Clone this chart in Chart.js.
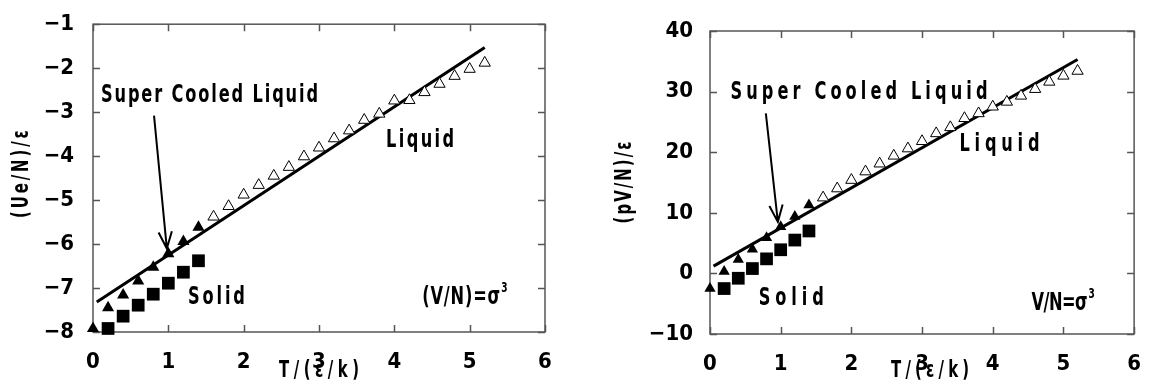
<!DOCTYPE html>
<html>
<head>
<meta charset="utf-8">
<script src="https://cdn.jsdelivr.net/npm/chart.js@4.4.0/dist/chart.umd.min.js"></script>
<style>
  html, body { margin:0; padding:0; background:#fff; }
  #wrap { display:flex; width:1150px; height:387px; }
  .box { position:relative; width:575px; height:387px; }
</style>
</head>
<body>
<div id="wrap">
  <div class="box"><canvas id="chart-energy"></canvas></div>
  <div class="box"><canvas id="chart-press"></canvas></div>
</div>
<script>
// ---- data ----
var T_SC    = [0, 0.2, 0.4, 0.6, 0.8, 1.0, 1.2, 1.4];          // super cooled liquid
var T_SOLID = [0.2, 0.4, 0.6, 0.8, 1.0, 1.2, 1.4];             // solid
var T_LIQ   = [1.6, 1.8, 2.0, 2.2, 2.4, 2.6, 2.8, 3.0, 3.2, 3.4, 3.6, 3.8, 4.0, 4.2, 4.4, 4.6, 4.8, 5.0, 5.2];
var T_FIT   = [0.05, 5.2];

var U_SC    = [-7.92, -7.45, -7.16, -6.84, -6.53, -6.22, -5.94, -5.62];
var U_SOLID = [-7.92, -7.64, -7.39, -7.14, -6.89, -6.64, -6.38];
var U_LIQ   = [-5.38, -5.14, -4.88, -4.66, -4.45, -4.25, -4.01, -3.81, -3.60, -3.42, -3.18, -3.04,
               -2.74, -2.73, -2.55, -2.36, -2.18, -2.02, -1.88];
var U_FIT   = [-7.32, -1.53];

var P_SC    = [-2.5, 0.3, 2.3, 4.0, 5.9, 7.7, 9.4, 11.3];
var P_SOLID = [-2.5, -0.8, 0.8, 2.4, 3.9, 5.5, 7.0];
var P_LIQ   = [12.5, 14.0, 15.4, 16.8, 18.1, 19.4, 20.6, 21.8, 23.1, 24.1, 25.6, 26.4,
               27.5, 28.3, 29.3, 30.4, 31.6, 32.6, 33.4];
var P_FIT   = [1.2, 35.3];

var X_TICKS = [0, 1, 2, 3, 4, 5, 6];
var U_TICKS = [-8, -7, -6, -5, -4, -3, -2, -1];
var P_TICKS = [-10, 0, 10, 20, 30, 40];

var FONT = '"DejaVu Sans Condensed", "DejaVu Sans", sans-serif';
var SQUEEZE = 0.72;   // the original uses a tall, narrow gothic face

function pts(xs, ys) { return xs.map(function(x, i){ return {x:x, y:ys[i]}; }); }
function minus(v) { return String(v).replace('-', '\u2212'); }

// squeezed text spread to a target width
function drawText(ctx, text, px, py, w, size, align) {
  ctx.save();
  ctx.font = 'bold ' + size + 'px ' + FONT;
  ctx.fillStyle = '#000';
  ctx.textBaseline = 'middle';
  ctx.textAlign = 'left';
  ctx.letterSpacing = '0px';
  var nat = ctx.measureText(text).width;
  var sp = w ? (w / SQUEEZE - nat) / Math.max(text.length - 1, 1) : 0;
  var real = w ? w : nat * SQUEEZE;
  var x0 = align === 'center' ? px - real / 2 : px;
  ctx.translate(x0, py);
  ctx.scale(SQUEEZE, 1);
  ctx.letterSpacing = sp + 'px';
  ctx.fillText(text, 0, 0);
  ctx.restore();
  return x0 + real;
}

function decorPlugin(cfg) {
  return {
    id: 'decor',
    beforeDatasetsDraw: function(chart) {
      var ctx = chart.ctx, a = chart.chartArea;
      var xs = chart.scales.x, ys = chart.scales.y;
      ctx.save();
      ctx.strokeStyle = '#555';
      ctx.lineWidth = 1.5;
      ctx.strokeRect(a.left, a.top, a.right - a.left, a.bottom - a.top);
      ctx.beginPath();
      X_TICKS.forEach(function(v){
        var p = Math.round(xs.getPixelForValue(v)) + 0.5;
        ctx.moveTo(p, a.bottom); ctx.lineTo(p, a.bottom - 7);
        ctx.moveTo(p, a.top);    ctx.lineTo(p, a.top + 7);
      });
      cfg.yTicks.forEach(function(v){
        var p = Math.round(ys.getPixelForValue(v)) + 0.5;
        ctx.moveTo(a.left, p);  ctx.lineTo(a.left + 7, p);
        ctx.moveTo(a.right, p); ctx.lineTo(a.right - 7, p);
      });
      ctx.stroke();
      ctx.restore();
    },
    afterDatasetsDraw: function(chart) {
      var ctx = chart.ctx, a = chart.chartArea;
      var xs = chart.scales.x, ys = chart.scales.y;
      // arrow
      var ar = cfg.arrow;
      var x1 = xs.getPixelForValue(ar.from[0]), y1 = ys.getPixelForValue(ar.from[1]);
      var x2 = xs.getPixelForValue(ar.to[0]),   y2 = ys.getPixelForValue(ar.to[1]);
      var ang = Math.atan2(y2 - y1, x2 - x1);
      ctx.save();
      ctx.strokeStyle = '#000';
      ctx.lineWidth = 2;
      ctx.beginPath();
      ctx.moveTo(x1, y1); ctx.lineTo(x2, y2);
      ctx.moveTo(x2 - 18 * Math.cos(ang - 0.38), y2 - 18 * Math.sin(ang - 0.38));
      ctx.lineTo(x2, y2);
      ctx.lineTo(x2 - 18 * Math.cos(ang + 0.38), y2 - 18 * Math.sin(ang + 0.38));
      ctx.stroke();
      ctx.restore();
      // labels
      cfg.labels.forEach(function(l){
        var px = xs.getPixelForValue(l.x), py = ys.getPixelForValue(l.y);
        var end = drawText(ctx, l.text, px, py, l.w, 25);
        if (l.sup) {
          ctx.save();
          ctx.font = 'bold 14px ' + FONT;
          ctx.textBaseline = 'middle';
          ctx.translate(end + 1, py - 9);
          ctx.scale(SQUEEZE, 1);
          ctx.fillText(l.sup, 0, 0);
          ctx.restore();
        }
      });
      // axis titles
      var cx = (a.left + a.right) / 2 + cfg.xTitleShift;
      drawText(ctx, 'T/(\u03b5/k)', cx, 371, cfg.xTitleW, 23, 'center');
      ctx.save();
      ctx.translate(cfg.yTitleX, (a.top + a.bottom) / 2 + cfg.yTitleShift);
      ctx.rotate(-Math.PI / 2);
      drawText(ctx, cfg.yTitle, 0, 0, cfg.yTitleW, 23, 'center');
      ctx.restore();
    }
  };
}

function tickFont() { return {family: FONT, size: 22, weight: 'bold'}; }

function makeChart(id, ser, cfg) {
  var ctx = document.getElementById(id);
  return new Chart(ctx, {
    type: 'scatter',
    data: {
      datasets: [
        { label:'fit', data: pts(T_FIT, ser.fit), showLine:true, borderColor:'#000', borderWidth:3,
          pointRadius:0, clip:false, order:4 },
        { label:'Liquid', data: pts(T_LIQ, ser.liq), pointStyle:'triangle', pointRadius:cfg.rOpen,
          backgroundColor:'#fff', borderColor:'#000', borderWidth:1, clip:false, order:3 },
        { label:'Super Cooled Liquid', data: pts(T_SC, ser.sc), pointStyle:'triangle', pointRadius:cfg.rTri,
          backgroundColor:'#000', borderColor:'#000', borderWidth:0, clip:false, order:2 },
        { label:'Solid', data: pts(T_SOLID, ser.solid), pointStyle:'rect', pointRadius:9,
          backgroundColor:'#000', borderColor:'#000', borderWidth:0, clip:false, order:1 }
      ]
    },
    options: {
      responsive:true, maintainAspectRatio:false, animation:false,
      layout: { padding: cfg.pad },
      plugins: { legend:{display:false}, tooltip:{enabled:false} },
      scales: {
        x: {
          type:'linear', min:0, max:6,
          afterBuildTicks: function(s){ s.ticks = X_TICKS.map(function(v){ return {value:v}; }); },
          afterFit: function(s){ s.height = cfg.xAxisH; },
          grid:{display:false}, border:{display:false},
          ticks:{ color:'#000', padding:9, font:tickFont(), maxRotation:0 }
        },
        y: {
          type:'linear', min:cfg.yTicks[0], max:cfg.yTicks[cfg.yTicks.length - 1],
          afterBuildTicks: function(s){ s.ticks = cfg.yTicks.map(function(v){ return {value:v}; }); },
          afterFit: function(s){ s.width = cfg.yAxisW; },
          grid:{display:false}, border:{display:false},
          ticks:{ color:'#000', padding:cfg.yPad, font:tickFont(), callback:function(v){ return minus(v); } }
        }
      }
    },
    plugins: [decorPlugin(cfg)]
  });
}

makeChart('chart-energy', {sc:U_SC, solid:U_SOLID, liq:U_LIQ, fit:U_FIT}, {
  pad: {left:0, right:30, top:17, bottom:0},
  xAxisH: 55, yAxisW: 93, yPad: 11, yTicks: U_TICKS,
  rTri: 7, rOpen: 6.5,
  arrow: {from:[0.81, -3.08], to:[0.98, -6.1]},
  labels: [
    {text:'Super Cooled Liquid', x:0.106, y:-2.62, w:217},
    {text:'Liquid', x:3.89, y:-3.64, w:68},
    {text:'Solid', x:1.26, y:-7.22, w:57},
    {text:'(V/N)=\u03c3', x:4.37, y:-7.22, w:78, sup:'3'}
  ],
  xTitleShift: 0, xTitleW: 80,
  yTitle: '(Ue/N)/\u03b5', yTitleX: 22, yTitleShift: -4, yTitleW: 88
});

makeChart('chart-press', {sc:P_SC, solid:P_SOLID, liq:P_LIQ, fit:P_FIT}, {
  pad: {left:0, right:8, top:31, bottom:0},
  xAxisH: 53, yAxisW: 135, yPad: 9, yTicks: P_TICKS,
  rTri: 6.5, rOpen: 6.5,
  arrow: {from:[0.79, 26.4], to:[0.96, 8.5]},
  labels: [
    {text:'Super Cooled Liquid', x:0.29, y:29.8, w:257},
    {text:'Liquid', x:3.53, y:21.2, w:80},
    {text:'Solid', x:0.69, y:-4.1, w:65},
    {text:'V/N=\u03c3', x:4.55, y:-5.0, w:56, sup:'3'}
  ],
  xTitleShift: 8, xTitleW: 78,
  yTitle: '(pV/N)/\u03b5', yTitleX: 50, yTitleShift: 0, yTitleW: 82
});
</script>
</body>
</html>
